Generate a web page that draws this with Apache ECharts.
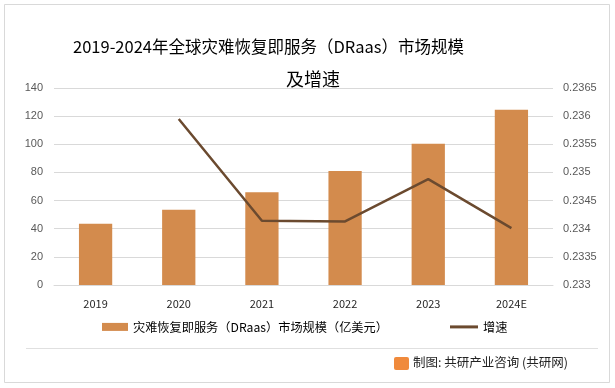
<!DOCTYPE html>
<html><head><meta charset="utf-8">
<script src="https://cdn.jsdelivr.net/npm/echarts@6/dist/echarts.min.js"></script>
<style>html,body{margin:0;padding:0;background:#fff}#c{width:615px;height:388px}</style>
</head><body><div id="c"></div>
<script>
const categories = ['2019','2020','2021','2022','2023','2024E'];
const marketSize = [43.5, 53.5, 66, 81, 100.3, 124.5];
const growthRate = [null, 0.23595, 0.23414, 0.23413, 0.23488, 0.23401];
const leftTicks = {min: 0, max: 140, interval: 20};
const rightTicks = {min: 0.233, max: 0.2365, interval: 0.0005};

const font = '"Noto Sans CJK SC", "Noto Sans", sans-serif';
const chart = echarts.init(document.getElementById('c'), null, {renderer: 'canvas'});
chart.setOption({
  animation: false,
  backgroundColor: '#fff',
  title: [
    {text: '2019-2024年全球灾难恢复即服务（DRaas）市场规模', left: 68, top: 33,
     textStyle: {fontFamily: font, fontSize: 16.5, fontWeight: 'normal', color: '#000'}},
    {text: '及增速', left: 281, top: 65,
     textStyle: {fontFamily: font, fontSize: 18, fontWeight: 'normal', color: '#000'}}
  ],
  grid: {left: 54, right: 62, top: 88, bottom: 103, containLabel: false},
  legend: [
    {left: 97, bottom: 50, itemWidth: 26, itemHeight: 8,
     textStyle: {fontFamily: font, fontSize: 12.2, color: '#000'},
     data: [{name: '灾难恢复即服务（DRaas）市场规模（亿美元）', icon: 'rect'}]},
    {left: 445, bottom: 50, itemWidth: 28, itemHeight: 3, itemGap: 4,
     textStyle: {fontFamily: font, fontSize: 12.2, color: '#000'},
     data: [{name: '增速', icon: 'rect'}]}
  ],
  xAxis: {
    type: 'category', data: categories,
    axisLine: {show: true, lineStyle: {color: '#d9d9d9'}},
    axisTick: {show: false},
    axisLabel: {fontFamily: font, fontSize: 11, color: '#262626', margin: 13}
  },
  yAxis: [
    {type: 'value', min: leftTicks.min, max: leftTicks.max, interval: leftTicks.interval,
     axisLine: {show: false}, axisTick: {show: false},
     splitLine: {lineStyle: {color: '#d9d9d9'}},
     axisLabel: {fontFamily: 'Liberation Sans, Arial, sans-serif', fontSize: 11, color: '#595959', margin: 11}},
    {type: 'value', min: rightTicks.min, max: rightTicks.max, interval: rightTicks.interval,
     axisLine: {show: false}, axisTick: {show: false}, splitLine: {show: false},
     axisLabel: {fontFamily: 'Liberation Sans, Arial, sans-serif', fontSize: 11, color: '#595959', margin: 10,
       formatter: v => String(parseFloat(v.toFixed(4)))}}
  ],
  series: [
    {name: '灾难恢复即服务（DRaas）市场规模（亿美元）', type: 'bar', data: marketSize,
     barWidth: '40%', itemStyle: {color: '#D38B4D'}},
    {name: '增速', type: 'line', yAxisIndex: 1, data: growthRate,
     symbol: 'none', lineStyle: {color: '#6B4A2F', width: 2.5}, itemStyle: {color: '#6B4A2F'}}
  ],
  graphic: [
    {type: 'rect', shape: {x: 4.5, y: 4.5, width: 605, height: 378},
     style: {fill: 'none', stroke: '#d9d9d9', lineWidth: 1}, silent: true},
    {type: 'line', shape: {x1: 26, y1: 348.5, x2: 598, y2: 348.5},
     style: {stroke: '#e0e0e0', lineWidth: 1}, silent: true},
    {type: 'rect', shape: {x: 394, y: 357, width: 15, height: 13, r: 2},
     style: {fill: '#F08A3C'}, silent: true},
    {type: 'text', left: 413, top: 356,
     style: {text: '制图: 共研产业咨询 (共研网)', font: '12.5px ' + font, fill: '#222'}}
  ]
});
</script></body></html>
